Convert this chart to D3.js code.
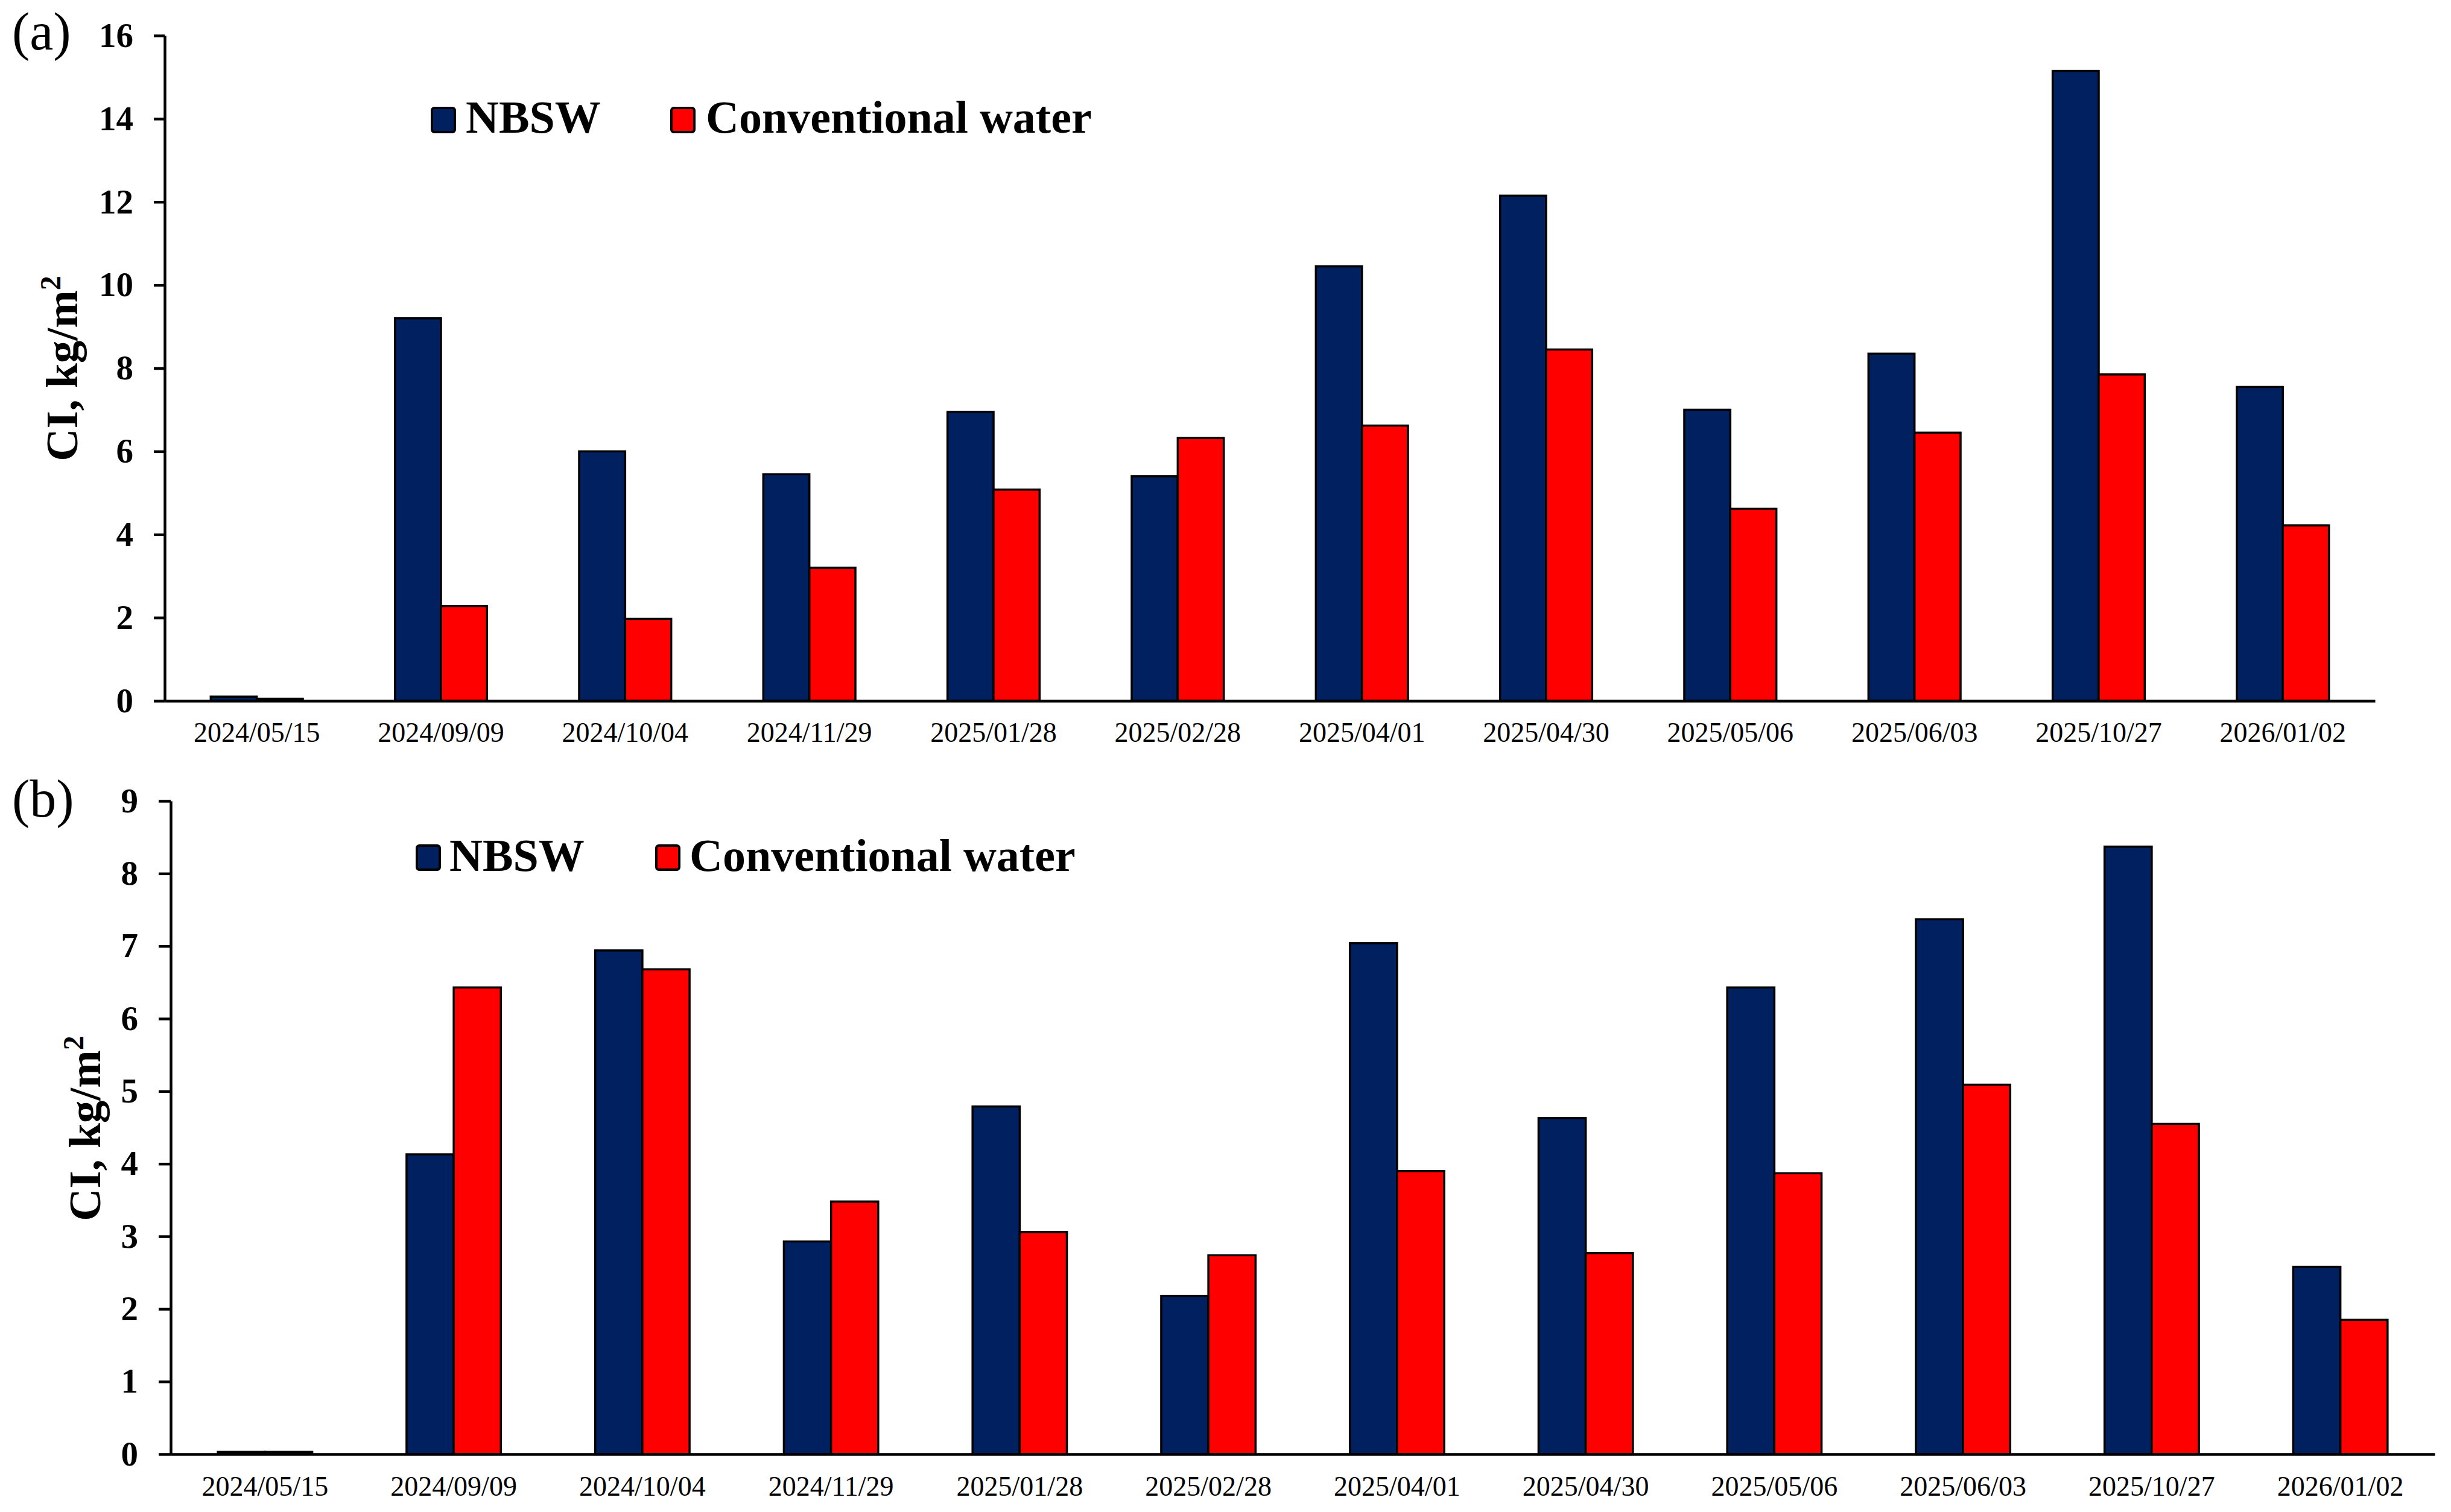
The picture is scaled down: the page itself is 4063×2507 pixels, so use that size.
<!DOCTYPE html>
<html>
<head>
<meta charset="utf-8">
<script src="https://cdn.jsdelivr.net/npm/d3@7/dist/d3.min.js"></script>
<style>
  html, body { margin: 0; padding: 0; background: #fff; }
  svg { display: block; }
  text { font-family: "Liberation Serif", "Times New Roman", serif; fill: #000; }
</style>
</head>
<body>
<svg id="chart" width="4063" height="2507"></svg>
<script>
const categories = ["2024/05/15","2024/09/09","2024/10/04","2024/11/29","2025/01/28","2025/02/28",
                    "2025/04/01","2025/04/30","2025/05/06","2025/06/03","2025/10/27","2026/01/02"];
const seriesNames = ["NBSW", "Conventional water"];
const seriesColors = ["#002060", "#FF0000"];

// Panel (a)
const nbswA = [0.10, 9.20, 6.00, 5.45, 6.95, 5.40, 10.45, 12.15, 7.00, 8.35, 15.15, 7.55];
const convA = [0.05, 2.28, 1.97, 3.20, 5.08, 6.32, 6.62, 8.45, 4.62, 6.45, 7.85, 4.22];
const ticksA = [0, 2, 4, 6, 8, 10, 12, 14, 16];

// Panel (b)
const nbswB = [0.03, 4.13, 6.94, 2.93, 4.79, 2.18, 7.04, 4.63, 6.43, 7.37, 8.37, 2.58];
const convB = [0.03, 6.43, 6.68, 3.48, 3.06, 2.74, 3.90, 2.77, 3.87, 5.09, 4.55, 1.85];
const ticksB = [0, 1, 2, 3, 4, 5, 6, 7, 8, 9];

const svg = d3.select("#chart");

function panel(cfg) {
  const g = svg.append("g");
  const x = d3.scaleBand().domain(categories).range(cfg.xRange).paddingInner(0).paddingOuter(0);
  const step = x.bandwidth();
  const x1 = d3.scaleBand().domain(seriesNames).range([0.25 * step, 0.75 * step]);
  const y = d3.scaleLinear().domain(cfg.yDomain).range(cfg.yRange);

  const rows = categories.map((c, i) => ({ cat: c, vals: [cfg.s1[i], cfg.s2[i]] }));

  const grp = g.append("g").selectAll("g").data(rows).join("g")
    .attr("transform", d => `translate(${x(d.cat)},0)`);
  grp.selectAll("rect").data(d => d.vals.map((v, k) => ({ v, k })))
    .join("rect")
    .attr("x", d => x1(seriesNames[d.k]))
    .attr("width", x1.bandwidth())
    .attr("y", d => y(d.v))
    .attr("height", d => y(0) - y(d.v))
    .attr("fill", d => seriesColors[d.k])
    .attr("stroke", "#000")
    .attr("stroke-width", 3.5);

  // Y axis
  const ya = g.append("g")
    .attr("transform", `translate(${cfg.xRange[0]},0)`)
    .call(d3.axisLeft(y).tickValues(cfg.ticks).tickFormat(d3.format("d"))
      .tickSize(cfg.tickLen).tickSizeOuter(0).tickPadding(cfg.tickPad));
  ya.select(".domain").attr("stroke", "#000").attr("stroke-width", 4.5);
  ya.selectAll(".tick line").attr("stroke", "#000").attr("stroke-width", 4.5);
  ya.selectAll(".tick text")
    .style("font-family", '"Liberation Serif", serif')
    .style("font-weight", "bold")
    .style("font-size", "57px")
    .attr("fill", "#000");

  // X axis
  const xa = g.append("g")
    .attr("transform", `translate(0,${y(0)})`)
    .call(d3.axisBottom(x).tickSize(0).tickSizeOuter(0));
  xa.select(".domain").attr("stroke", "#000").attr("stroke-width", 4.5);
  xa.selectAll(".tick text")
    .attr("y", cfg.xLabelOffset).attr("dy", null)
    .style("font-family", '"Liberation Serif", serif')
    .style("font-size", "46px")
    .attr("fill", "#000");

  // Y title
  const t = g.append("text")
    .attr("transform", `translate(${cfg.titleX},${cfg.titleY}) rotate(-90)`)
    .attr("text-anchor", "middle")
    .style("font-weight", "bold")
    .style("font-size", "75px");
  t.append("tspan").text("CI, kg/m");
  t.append("tspan").text("2").style("font-size", "48px").attr("dy", "-28");

  // Panel label
  g.append("text").attr("x", 20).attr("y", cfg.labelY)
    .style("font-size", "88px").text(cfg.label);

  // Legend
  const lg = g.append("g");
  seriesNames.forEach((name, k) => {
    lg.append("rect")
      .attr("x", cfg.legend[k].sx).attr("y", cfg.legend[k].sy)
      .attr("width", 38).attr("height", 40).attr("rx", 4)
      .attr("fill", seriesColors[k]).attr("stroke", "#000").attr("stroke-width", 4);
    lg.append("text")
      .attr("x", cfg.legend[k].tx).attr("y", cfg.legend[k].ty)
      .style("font-weight", "bold").style("font-size", "76px")
      .text(name);
  });
}

panel({
  xRange: [273, 3937], yDomain: [0, 16], yRange: [1162, 59],
  s1: nbswA, s2: convA, ticks: ticksA,
  tickLen: 18, tickPad: 34, xLabelOffset: 68,
  titleX: 128, titleY: 611, label: "(a)", labelY: 82,
  legend: [{ sx: 716, sy: 179, tx: 772, ty: 220 }, { sx: 1113, sy: 179, tx: 1170, ty: 220 }]
});

panel({
  xRange: [283, 4036], yDomain: [0, 9], yRange: [2411, 1328],
  s1: nbswB, s2: convB, ticks: ticksB,
  tickLen: 20, tickPad: 34, xLabelOffset: 69,
  titleX: 166, titleY: 1871, label: "(b)", labelY: 1354,
  legend: [{ sx: 691, sy: 1402, tx: 745, ty: 1444 }, { sx: 1088, sy: 1402, tx: 1143, ty: 1444 }]
});
</script>
</body>
</html>
